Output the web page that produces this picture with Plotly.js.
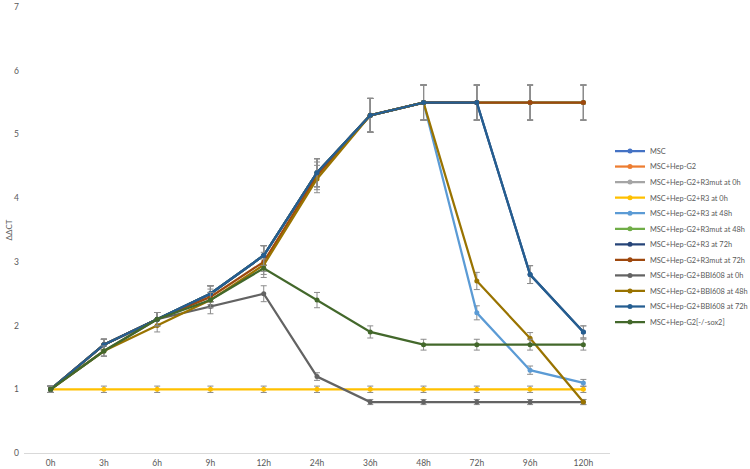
<!DOCTYPE html>
<html>
<head>
<meta charset="utf-8">
<script src="https://cdn.plot.ly/plotly-3.0.1.min.js"></script>
<style>
  html, body { margin: 0; padding: 0; background: #fff; }
  #plotdiv { width: 750px; height: 469px; }
</style>
</head>
<body>
<div id="plotdiv"></div>
<script>
var timePoints = ['0h', '3h', '6h', '9h', '12h', '24h', '36h', '48h', '72h', '96h', '120h'];

var seriesNames = [
  'MSC',
  'MSC+Hep-G2',
  'MSC+Hep-G2+R3mut at 0h',
  'MSC+Hep-G2+R3 at 0h',
  'MSC+Hep-G2+R3 at 48h',
  'MSC+Hep-G2+R3mut at 48h',
  'MSC+Hep-G2+R3 at 72h',
  'MSC+Hep-G2+R3mut at 72h',
  'MSC+Hep-G2+BBI608 at 0h',
  'MSC+Hep-G2+BBI608 at 48h',
  'MSC+Hep-G2+BBI608 at 72h',
  'MSC+Hep-G2[-/-sox2]'
];

// values (hidden series sit under the visible ones)
var msc            = [1, 1.7, 2.1, 2.5, 3.1, 4.4, 5.3, 5.5, 5.5, 5.5, 5.5];
var mscHep         = [1, 1.7, 2.1, 2.5, 3.1, 4.4, 5.3, 5.5, 5.5, 5.5, 5.5];
var r3mut0h        = [1, 1.7, 2.1, 2.5, 3.1, 4.4, 5.3, 5.5, 5.5, 5.5, 5.5];
var r3at0h         = [1, 1, 1, 1, 1, 1, 1, 1, 1, 1, 1];
var r3at48h        = [1, 1.7, 2.1, 2.5, 3.1, 4.4, 5.3, 5.5, 2.2, 1.3, 1.1];
var r3mut48h       = [1, 1.7, 2.1, 2.5, 3.1, 4.4, 5.3, 5.5, 5.5, 5.5, 5.5];
var r3at72h        = [1, 1.7, 2.1, 2.5, 3.1, 4.4, 5.3, 5.5, 5.5, 2.8, 1.9];
var r3mut72h       = [1, 1.7, 2.1, 2.45, 3.0, 4.35, 5.3, 5.5, 5.5, 5.5, 5.5];
var bbi0h          = [1, 1.6, 2.1, 2.3, 2.5, 1.2, 0.8, 0.8, 0.8, 0.8, 0.8];
var bbi48h         = [1, 1.6, 2.0, 2.4, 2.95, 4.3, 5.3, 5.5, 2.7, 1.8, 0.8];
var bbi72h         = [1, 1.7, 2.1, 2.5, 3.1, 4.4, 5.3, 5.5, 5.5, 2.8, 1.9];
var sox2           = [1, 1.6, 2.1, 2.4, 2.9, 2.4, 1.9, 1.7, 1.7, 1.7, 1.7];

var seriesValues = [msc, mscHep, r3mut0h, r3at0h, r3at48h, r3mut48h, r3at72h, r3mut72h, bbi0h, bbi48h, bbi72h, sox2];

var colors = ['#4472C4', '#ED7D31', '#A5A5A5', '#FFC000', '#5B9BD5', '#70AD47',
              '#264478', '#9E480E', '#636363', '#997300', '#255E91', '#43682B'];

var W = 750, H = 469;

var layout = {
  width: W,
  height: H,
  margin: { l: 24, r: 135, t: 7, b: 16 },
  paper_bgcolor: '#fff',
  plot_bgcolor: '#fff',
  font: { family: 'Lato, Open Sans, sans-serif', size: 8, color: '#595959' },
  showlegend: true,
  xaxis: {
    type: 'category',
    range: [-0.5, 10.5],
    showgrid: false,
    zeroline: false,
    showline: true,
    linecolor: '#D9D9D9',
    linewidth: 1,
    ticks: '',
    ticklabelstandoff: 2,
    automargin: false,
    tickfont: { size: 8.5 }
  },
  yaxis: {
    range: [0, 7],
    dtick: 1,
    showgrid: false,
    zeroline: false,
    showline: false,
    ticks: '',
    ticklabelstandoff: 4,
    automargin: false,
    tickfont: { size: 8.5 },
    title: { text: 'ΔΔCT', standoff: 0, font: { size: 8, color: '#595959' } }
  }
};

// one small legend per series so the rows can sit closer than plotly's default spacing
var data = [];
for (var i = 0; i < seriesNames.length; i++) {
  var key = i === 0 ? 'legend' : 'legend' + (i + 1);
  data.push({
    x: timePoints,
    y: seriesValues[i],
    name: seriesNames[i],
    legend: key,
    type: 'scatter',
    mode: 'lines+markers',
    line: { color: colors[i], width: 2.25 },
    marker: { color: colors[i], size: 5 },
    error_y: { type: 'percent', value: 5, color: '#8c8c8c', thickness: 1, width: 3 }
  });
  layout[key] = {
    xref: 'container', yref: 'container',
    x: 610 / W, xanchor: 'left',
    y: 1 - (151 + 15.55 * i) / H, yanchor: 'middle',
    bgcolor: 'rgba(0,0,0,0)',
    itemwidth: 30,
    font: { size: 7.4, color: '#595959' }
  };
}

Plotly.newPlot('plotdiv', data, layout, { displayModeBar: false, staticPlot: true });
</script>
</body>
</html>
